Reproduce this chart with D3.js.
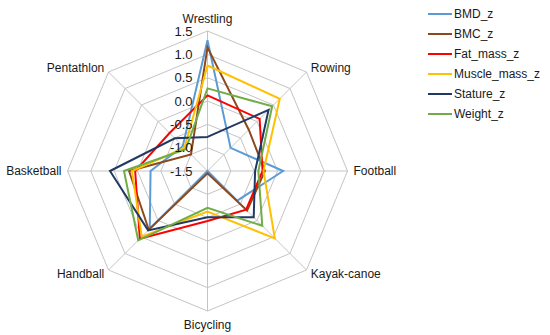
<!DOCTYPE html>
<html>
<head>
<meta charset="utf-8">
<script src="https://cdn.jsdelivr.net/npm/d3@7"></script>
<style>
  body { margin: 0; background: #fff; }
  text { font-family: "Liberation Sans", Arial, sans-serif; font-size: 12px; fill: #1a1a1a; }
</style>
</head>
<body>
<div id="chart"></div>
<script>
// sports on the spokes, clockwise from the top
const sports = ['Wrestling', 'Rowing', 'Football', 'Kayak-canoe', 'Bicycling', 'Handball', 'Basketball', 'Pentathlon'];
const levels = [-1.5, -1.0, -0.5, 0.0, 0.5, 1.0, 1.5];
const levelLabels = ['-1.5', '-1.0', '-0.5', '0.0', '0.5', '1.0', '1.5'];

const seriesNames = ['BMD_z', 'BMC_z', 'Fat_mass_z', 'Muscle_mass_z', 'Stature_z', 'Weight_z'];
const seriesColors = ['#5b9bd5', '#8c4a1c', '#ff0000', '#ffc000', '#203864', '#70ad47'];

const bmd = [1.3, -0.8, 0.12, -0.6, -1.5, 0.25, -0.28, -0.75];
const bmc = [1.15, -0.25, -0.27, -0.3, -1.45, 0.28, 0.18, -1.0];
const fatMass = [0.12, 0.08, -0.32, -0.33, -0.43, 0.55, 0.05, -0.35];
const muscleMass = [0.76, 0.69, -0.3, 0.54, -0.63, 0.49, 0.12, -0.8];
const stature = [-0.77, 0.35, -0.48, -0.1, -0.51, 0.3, 0.59, -0.51];
const weight = [0.27, 0.46, -0.41, 0.16, -0.71, 0.6, 0.29, -0.84];

const series = [bmd, bmc, fatMass, muscleMass, stature, weight];

const width = 550, height = 335;
const cx = 207.5, cy = 171, radius = 140;

const svg = d3.select('#chart').append('svg')
  .attr('width', width)
  .attr('height', height);

const r = d3.scaleLinear().domain([-1.5, 1.5]).range([0, radius]);
const angleStep = 2 * Math.PI / sports.length;
const ang = (i) => i * angleStep;

const pt = (i, v) => [cx + r(v) * Math.sin(ang(i)), cy - r(v) * Math.cos(ang(i))];

const g = svg.append('g');

// octagon rings
levels.slice(1).forEach((lv) => {
  const pts = sports.map((s, i) => pt(i, lv));
  g.append('polygon')
    .attr('points', pts.map(p => p.join(',')).join(' '))
    .attr('fill', 'none')
    .attr('stroke', '#c4c4c4')
    .attr('stroke-width', 1);
});

// spokes
sports.forEach((s, i) => {
  const [x, y] = pt(i, 1.5);
  g.append('line')
    .attr('x1', cx).attr('y1', cy)
    .attr('x2', x).attr('y2', y)
    .attr('stroke', '#c4c4c4')
    .attr('stroke-width', 1);
});

// series lines
const line = d3.line().curve(d3.curveLinearClosed);
series.forEach((vals, k) => {
  g.append('path')
    .attr('d', line(vals.map((v, i) => pt(i, v))))
    .attr('fill', 'none')
    .attr('stroke', seriesColors[k])
    .attr('stroke-width', 2)
    .attr('stroke-linejoin', 'miter');
});

// level labels up the top spoke
levels.forEach((lv, i) => {
  g.append('text')
    .attr('x', cx - 15)
    .attr('y', cy - r(lv))
    .attr('dy', '0.35em')
    .attr('text-anchor', 'end')
    .style('font-size', '13px')
    .text(levelLabels[i]);
});

// sport labels
sports.forEach((s, i) => {
  const a = ang(i);
  const lx = cx + (radius + 6) * Math.sin(a);
  const ly = cy - (radius + 6) * Math.cos(a);
  const sx = Math.sin(a), cyy = Math.cos(a);
  let anchor = 'middle';
  if (sx > 0.1) anchor = 'start';
  else if (sx < -0.1) anchor = 'end';
  let dy = '0.35em';
  if (cyy > 0.9) dy = '-0.15em';
  else if (cyy < -0.9) dy = '1.0em';
  g.append('text')
    .attr('x', lx)
    .attr('y', ly)
    .attr('dy', dy)
    .attr('text-anchor', anchor)
    .text(s);
});

// legend
const legend = svg.append('g').attr('transform', 'translate(428, 14)');
seriesNames.forEach((name, k) => {
  const row = legend.append('g').attr('transform', `translate(0, ${k * 20})`);
  row.append('line')
    .attr('x1', 0).attr('x2', 24)
    .attr('y1', 0).attr('y2', 0)
    .attr('stroke', seriesColors[k])
    .attr('stroke-width', 2);
  row.append('text')
    .attr('x', 26)
    .attr('y', 0)
    .attr('dy', '0.35em')
    .text(name);
});
</script>
</body>
</html>
